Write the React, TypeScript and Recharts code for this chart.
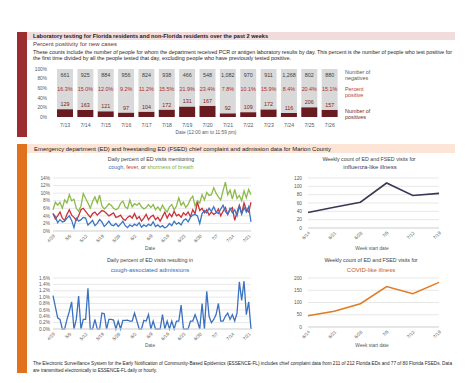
import React from 'react';
import { BarChart, Bar, LineChart, Line, XAxis, YAxis, CartesianGrid, LabelList } from 'recharts';

// lab testing, past 2 weeks
const labDates = ['7/13', '7/14', '7/15', '7/16', '7/17', '7/18', '7/19', '7/20', '7/21', '7/22', '7/23', '7/24', '7/25', '7/26'];
const negatives = [661, 925, 884, 956, 824, 938, 466, 548, 1082, 970, 911, 1268, 802, 880];
const percentPositive = [16.3, 15.0, 12.0, 9.2, 11.2, 15.5, 21.9, 23.4, 7.8, 10.1, 15.9, 8.4, 20.4, 15.1];
const positives = [129, 163, 121, 97, 104, 172, 131, 167, 92, 109, 172, 116, 206, 157];

// daily ED data
const dailyDates = [
  '4/28', '4/29', '4/30',
  '5/1', '5/2', '5/3', '5/4', '5/5', '5/6', '5/7', '5/8', '5/9', '5/10', '5/11', '5/12', '5/13', '5/14', '5/15', '5/16',
  '5/17', '5/18', '5/19', '5/20', '5/21', '5/22', '5/23', '5/24', '5/25', '5/26', '5/27', '5/28', '5/29', '5/30', '5/31',
  '6/1', '6/2', '6/3', '6/4', '6/5', '6/6', '6/7', '6/8', '6/9', '6/10', '6/11', '6/12', '6/13', '6/14', '6/15', '6/16',
  '6/17', '6/18', '6/19', '6/20', '6/21', '6/22', '6/23', '6/24', '6/25', '6/26', '6/27', '6/28', '6/29', '6/30',
  '7/1', '7/2', '7/3', '7/4', '7/5', '7/6', '7/7', '7/8', '7/9', '7/10', '7/11', '7/12', '7/13', '7/14', '7/15', '7/16',
  '7/17', '7/18', '7/19', '7/20', '7/21', '7/22',
];
const coughPct = [
  4.6, 3.8, 2.2, 3.0, 2.4, 2.6, 3.4, 4.0, 2.8, 0.9, 3.4, 2.6, 3.0, 3.6, 3.4, 1.6, 2.2, 2.8, 1.4, 2.0, 3.0,
  2.4, 1.2, 1.8, 2.6, 1.6, 1.4, 2.0, 1.2, 1.8, 2.6, 1.4, 0.9, 1.6, 1.2, 1.8, 1.4, 2.2, 1.0, 1.6, 1.2, 1.8,
  1.4, 2.4, 1.2, 1.6, 1.0, 1.4, 0.8, 1.2, 2.0, 1.4, 2.6, 1.8, 2.2, 1.6, 2.8, 3.2, 2.4, 3.6, 4.2, 4.4, 4.0,
  2.0, 4.6, 5.4, 4.8, 6.0, 5.2, 6.4, 5.0, 4.6, 5.8, 6.8, 5.2, 4.4, 6.0, 4.8, 5.6, 4.0, 6.6, 4.4, 6.2, 5.0,
  6.4, 2.4,
];
const feverPct = [
  4.6, 3.2, 4.0, 5.0, 3.4, 2.8, 4.4, 5.6, 4.2, 3.6, 2.8, 4.0, 5.6, 6.0, 5.2, 4.4, 3.6, 4.6, 5.0, 4.2, 4.8,
  5.4, 5.2, 4.6, 4.0, 4.4, 4.8, 3.6, 3.8, 4.2, 3.2, 2.8, 3.6, 4.0, 3.4, 4.6, 3.2, 3.8, 2.6, 3.4, 4.4, 3.0,
  3.8, 4.2, 3.0, 3.6, 2.6, 3.8, 5.0, 3.4, 4.6, 3.8, 5.2, 4.0, 4.4, 3.6, 4.8, 4.2, 5.0, 3.8, 5.6, 4.6, 7.6,
  5.4, 6.0, 4.8, 5.6, 4.2, 5.0, 4.4, 4.8, 5.8, 4.0, 5.2, 6.2, 4.4, 5.6, 6.2, 2.8, 5.0, 6.8, 4.6, 7.4, 5.6,
  5.0, 7.6,
];
const breathPct = [
  5.6, 7.6, 6.8, 7.6, 6.0, 8.2, 7.4, 9.6, 8.0, 8.4, 6.0, 5.2, 6.6, 9.9, 8.6, 7.4, 6.0, 7.8, 9.0, 7.4, 9.5,
  6.6, 5.8, 6.4, 7.2, 6.8, 6.0, 5.6, 6.0, 7.3, 7.9, 6.4, 5.9, 8.2, 6.4, 7.2, 6.8, 7.4, 6.4, 5.8, 6.2, 7.0,
  6.2, 7.0, 5.6, 6.4, 5.4, 6.8, 5.8, 5.0, 6.4, 7.0, 5.6, 6.6, 8.8, 6.8, 7.6, 6.2, 7.0, 8.4, 9.2, 6.6, 8.0,
  7.4, 9.6, 8.2, 10.2, 9.4, 9.6, 11.4, 10.0, 9.0, 8.2, 10.6, 12.9, 9.6, 10.8, 8.4, 11.0, 8.6, 9.4, 8.0, 10.6, 8.8,
  11.0, 9.6,
];
const admitPct = [
  1.05, 0.7, 0.35, 0.3, 0.0, 0.0, 0.3, 0.55, 0.85, 0.0,
  0.3, 1.03, 0.0, 0.3, 0.3, 1.28, 0.0, 0.0, 0.3, 0.0,
  0.0, 0.5, 0.48, 0.0, 0.3, 0.3, 0.28, 0.0, 0.25, 0.0,
  0.27, 0.27, 0.28, 0.25, 0.25, 0.5, 0.25, 0.0, 0.0, 0.27,
  0.25, 0.45, 0.0, 0.25, 0.0, 0.0, 0.0, 0.45, 0.0, 0.25,
  0.0, 0.25, 0.0, 0.25, 0.25, 0.75, 0.0, 0.0, 0.0, 0.25,
  0.25, 0.45, 0.25, 0.0, 0.8, 0.0, 1.18, 0.4, 0.2, 0.3,
  0.45, 0.8, 0.25, 0.25, 0.4, 0.5, 0.3, 0.45, 0.25, 0.5,
  1.48, 0.9, 1.5, 0.45, 0.85, 0.0,
];

// weekly ED + FSED counts
const weekStarts = ['6/14', '6/21', '6/28', '7/5', '7/12', '7/19'];
const iliCounts = [37, 50, 62, 108, 78, 83];
const cliCounts = [46, 64, 95, 165, 136, 182];

const labRows = labDates.map((date, i) => ({
  date,
  pct: percentPositive[i],
  rest: 100 - percentPositive[i],
  negatives: negatives[i],
  positives: positives[i],
}));
const dailyRows = dailyDates.map((date, i) => ({
  date,
  cough: coughPct[i],
  fever: feverPct[i],
  breath: breathPct[i],
  admit: admitPct[i],
}));
const weeklyRows = weekStarts.map((week, i) => ({ week, ili: iliCounts[i], cli: cliCounts[i] }));

const FONT = '"Liberation Sans", Arial, sans-serif';
const GREY = '#595959';
const tickStyle = { fontSize: 4.8, fill: GREY };
const rotTick = { fontSize: 4.6, fill: GREY, textAnchor: 'end', verticalAnchor: 'middle' } as any;

function Abs({ left, top, children }: { left: number; top: number; children: React.ReactNode }) {
  return <div style={{ position: 'absolute', left, top }}>{children}</div>;
}

export default function App() {
  return (
    <div style={{ position: 'absolute', left: 0, top: 0, width: 474, height: 383, background: '#fff', fontFamily: FONT, overflow: 'hidden' }}>
      <svg width={474} height={383} style={{ position: 'absolute', left: 0, top: 0 }} fontFamily={FONT}>
        {/* section 1 */}
        <rect x={17} y={32} width={10} height={105} fill="#9b2d30" />
        <rect x={27} y={32} width={428} height={8} fill="#f2dcdb" />
        <text x={33} y={38.3} fontSize={5.4} fontWeight="bold" fill="#1a1a1a" textLength={235} lengthAdjust="spacingAndGlyphs">
          Laboratory testing for Florida residents and non-Florida residents over the past 2 weeks
        </text>
        <text x={33} y={46} fontSize={6} fill="#6e3030" textLength={84} lengthAdjust="spacingAndGlyphs">
          Percent positivity for new cases
        </text>
        <text x={33} y={53.5} fontSize={4.6} fill="#262626" textLength={419} lengthAdjust="spacingAndGlyphs">
          These counts include the number of people for whom the department received PCR or antigen laboratory results by day. This percent is the number of people who test positive for
        </text>
        <text x={33} y={59.5} fontSize={4.6} fill="#262626" textLength={258} lengthAdjust="spacingAndGlyphs">
          the first time divided by all the people tested that day, excluding people who have previously tested positive.
        </text>
        <text x={345} y={73.8} fontSize={5.4} fill={GREY}>Number of</text>
        <text x={345} y={79.8} fontSize={5.4} fill={GREY}>negatives</text>
        <text x={345} y={91} fontSize={5.4} fill="#c0392b">Percent</text>
        <text x={345} y={97} fontSize={5.4} fill="#c0392b">positive</text>
        <text x={345} y={113} fontSize={5.4} fill="#7b1d22">Number of</text>
        <text x={345} y={119} fontSize={5.4} fill="#7b1d22">positives</text>
        <text x={206} y={133.8} fontSize={4.8} fill={GREY} textAnchor="middle">Date (12:00 am to 11:59 pm)</text>

        {/* section 2 */}
        <rect x={17} y={144} width={10} height={229} fill="#e2711d" />
        <rect x={27} y={144} width={428} height={9} fill="#fce4d6" />
        <text x={34} y={150.6} fontSize={5.4} fill="#1a1a1a" textLength={297} lengthAdjust="spacingAndGlyphs">
          Emergency department (ED) and freestanding ED (FSED) chief complaint and admission data for Marion County
        </text>

        <text x={151} y={160.8} fontSize={5.3} fill="#404040" textAnchor="middle">Daily percent of ED visits mentioning</text>
        <text x={151} y={168.8} fontSize={5.4} fill="#404040" textAnchor="middle">
          <tspan fill="#2f6eb8">cough</tspan>, <tspan fill="#c8343a">fever</tspan>, or <tspan fill="#7fae3e">shortness of breath</tspan>
        </text>
        <text x={150} y={250} fontSize={4.8} fill={GREY} textAnchor="middle">Date</text>

        <text x={369} y={160.8} fontSize={5.3} fill="#404040" textAnchor="middle">Weekly count of ED and FSED visits for</text>
        <text x={370} y={169.3} fontSize={6} fill="#3d3a5c" textAnchor="middle">influenza-like illness</text>
        <text x={372} y={250} fontSize={4.8} fill={GREY} textAnchor="middle">Week start date</text>

        <text x={150} y={261.5} fontSize={5.3} fill="#404040" textAnchor="middle">Daily percent of ED visits resulting in</text>
        <text x={150} y={271.5} fontSize={6} fill="#2f6eb8" textAnchor="middle">cough-associated admissions</text>
        <text x={150} y={347} fontSize={4.8} fill={GREY} textAnchor="middle">Date</text>

        <text x={371} y={262} fontSize={5.3} fill="#404040" textAnchor="middle">Weekly count of ED and FSED visits for</text>
        <text x={371} y={271.5} fontSize={6} fill="#c55a11" textAnchor="middle">COVID-like illness</text>
        <text x={372} y={347} fontSize={4.8} fill={GREY} textAnchor="middle">Week start date</text>

        <text x={33} y={365} fontSize={4.6} fill="#262626" textLength={419} lengthAdjust="spacingAndGlyphs">
          The Electronic Surveillance System for the Early Notification of Community-Based Epidemics (ESSENCE-FL) includes chief complaint data from 211 of 212 Florida EDs and 77 of 80 Florida FSEDs. Data
        </text>
        <text x={33} y={371.5} fontSize={4.6} fill="#262626" textLength={124} lengthAdjust="spacingAndGlyphs">
          are transmitted electronically to ESSENCE-FL daily or hourly.
        </text>
      </svg>

      {/* percent positivity bars */}
      <Abs left={0} top={60}>
        <BarChart width={360} height={80} data={labRows} margin={{ top: 9, right: 20, bottom: 0, left: 0 }} barSize={16}>
          <XAxis dataKey="date" interval={0} axisLine={false} tickLine={false} tickSize={5} tickMargin={1} height={23} tick={{ fontSize: 5.2, fill: GREY }} />
          <YAxis domain={[0, 100]} ticks={[0, 20, 40, 60, 80, 100]} interval={0} tickFormatter={(v: number) => `${v}%`} axisLine={false} tickLine={false} width={55} tickSize={6} tickMargin={2} tick={tickStyle} />
          <Bar dataKey="pct" stackId="a" fill="#6a1b1f" isAnimationActive={false}>
            <LabelList dataKey="positives" position="top" offset={3} fill="#7b1d22" fontSize={5.4} />
          </Bar>
          <Bar dataKey="rest" stackId="a" fill="#d9d9d9" isAnimationActive={false}>
            <LabelList dataKey="negatives" position="insideTop" offset={4} fill="#404040" fontSize={5.4} formatter={(v: number) => v.toLocaleString('en-US')} />
            <LabelList dataKey="pct" position="insideTop" offset={18} fill="#b02a30" fontSize={5.4} formatter={(v: number) => `${v.toFixed(1)}%`} />
          </Bar>
        </BarChart>
      </Abs>

      {/* cough / fever / sob */}
      <Abs left={0} top={170}>
        <LineChart width={260} height={85} data={dailyRows} margin={{ top: 8, right: 9, bottom: 0, left: 0 }}>
          <CartesianGrid vertical={false} stroke="#d9d9d9" strokeWidth={0.6} />
          <XAxis dataKey="date" interval={6} angle={-45} height={24} tickLine={false} axisLine={{ stroke: '#d9d9d9' }} tickSize={2} tickMargin={1} tick={rotTick} />
          <YAxis domain={[0, 14]} ticks={[0, 2, 4, 6, 8, 10, 12, 14]} interval={0} tickFormatter={(v: number) => `${v}%`} width={53} axisLine={false} tickLine={false} tickSize={1} tickMargin={2} tick={tickStyle} />
          <Line dataKey="breath" stroke="#8dbb4a" strokeWidth={1.3} dot={false} isAnimationActive={false} />
          <Line dataKey="fever" stroke="#c8343a" strokeWidth={1.3} dot={false} isAnimationActive={false} />
          <Line dataKey="cough" stroke="#3a76c4" strokeWidth={1.3} dot={false} isAnimationActive={false} />
        </LineChart>
      </Abs>

      {/* ILI weekly */}
      <Abs left={240} top={170}>
        <LineChart width={210} height={85} data={weeklyRows} margin={{ top: 8, right: 11, bottom: 0, left: 0 }}>
          <CartesianGrid vertical={false} stroke="#d9d9d9" strokeWidth={0.6} />
          <XAxis dataKey="week" interval={0} angle={-45} height={27} tickLine={false} axisLine={{ stroke: '#d9d9d9' }} tickSize={2} tickMargin={1} tick={rotTick} />
          <YAxis domain={[0, 120]} ticks={[0, 20, 40, 60, 80, 100, 120]} interval={0} width={68} axisLine={false} tickLine={false} tickSize={1} tickMargin={5} tick={tickStyle} />
          <Line dataKey="ili" stroke="#3d3656" strokeWidth={1.6} dot={false} isAnimationActive={false} />
        </LineChart>
      </Abs>

      {/* cough admissions */}
      <Abs left={0} top={270}>
        <LineChart width={260} height={85} data={dailyRows} margin={{ top: 8, right: 9, bottom: 0, left: 0 }}>
          <CartesianGrid vertical={false} stroke="#d9d9d9" strokeWidth={0.6} />
          <XAxis dataKey="date" interval={6} angle={-45} height={26} tickLine={false} axisLine={{ stroke: '#d9d9d9' }} tickSize={2} tickMargin={1} tick={rotTick} />
          <YAxis domain={[0, 1.6]} ticks={[0, 0.2, 0.4, 0.6, 0.8, 1.0, 1.2, 1.4, 1.6]} interval={0} tickFormatter={(v: number) => `${v.toFixed(1)}%`} width={53} axisLine={false} tickLine={false} tickSize={1} tickMargin={2} tick={tickStyle} />
          <Line dataKey="admit" stroke="#3b72c0" strokeWidth={1.3} dot={false} isAnimationActive={false} />
        </LineChart>
      </Abs>

      {/* CLI weekly */}
      <Abs left={240} top={270}>
        <LineChart width={210} height={85} data={weeklyRows} margin={{ top: 8, right: 11, bottom: 0, left: 0 }}>
          <CartesianGrid vertical={false} stroke="#d9d9d9" strokeWidth={0.6} />
          <XAxis dataKey="week" interval={0} angle={-45} height={28} tickLine={false} axisLine={{ stroke: '#d9d9d9' }} tickSize={2} tickMargin={1} tick={rotTick} />
          <YAxis domain={[0, 200]} ticks={[0, 50, 100, 150, 200]} interval={0} width={68} axisLine={false} tickLine={false} tickSize={1} tickMargin={5} tick={tickStyle} />
          <Line dataKey="cli" stroke="#e07b22" strokeWidth={1.5} dot={false} isAnimationActive={false} />
        </LineChart>
      </Abs>
    </div>
  );
}
